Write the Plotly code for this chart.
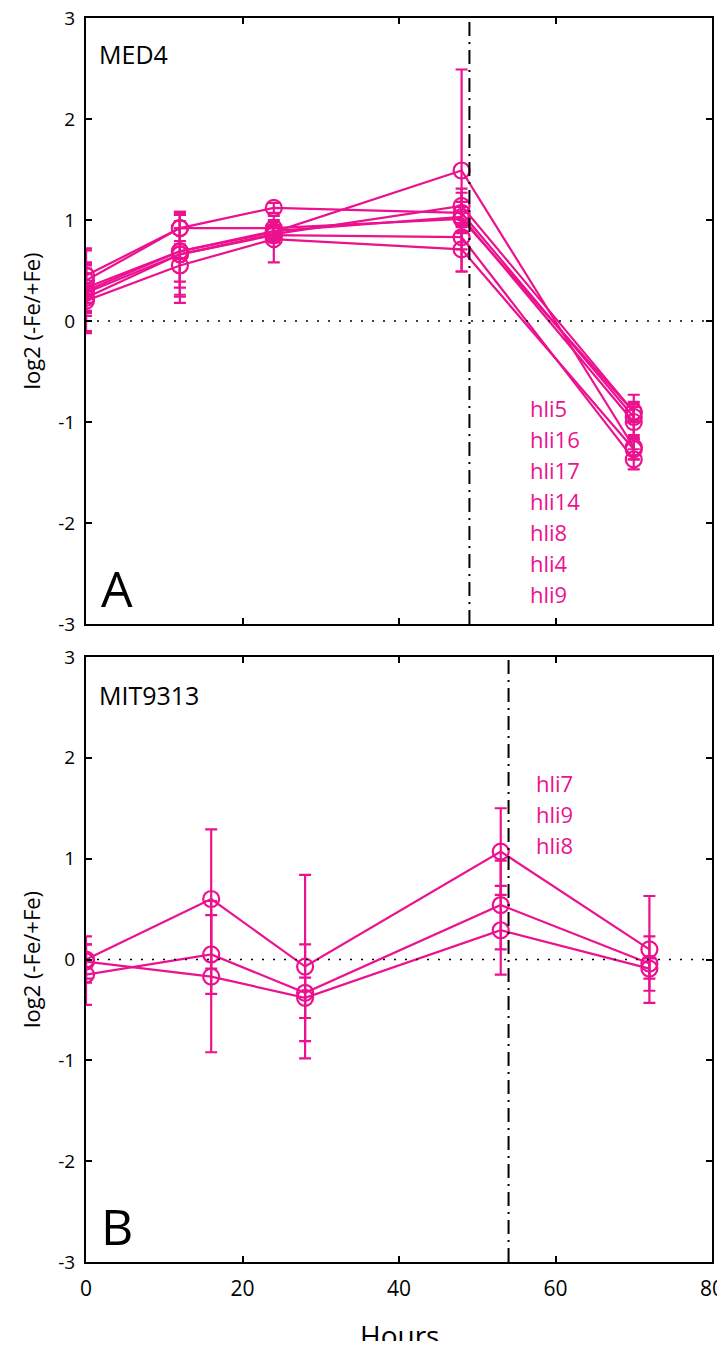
import plotly.graph_objects as go
from plotly.subplots import make_subplots

PINK = "#EC118F"
FONT = "Open Sans"

# Panel A: MED4
hours_a = [0, 12, 24, 48, 70]
med4_series = {
    "s1": [0.45, 0.92, 1.12, 1.07, -0.95],
    "s2": [0.40, 0.92, 0.92, 1.01, -0.90],
    "s3": [0.33, 0.69, 0.88, 1.49, -1.25],
    "s4": [0.28, 0.66, 0.86, 1.14, -0.90],
    "s5": [0.23, 0.66, 0.85, 0.83, -1.37],
    "s6": [0.20, 0.55, 0.81, 0.71, -1.27],
    "s7": [0.30, 0.69, 0.89, 1.03, -1.00],
}
med4_err = {
    "s1": [0.27, 0.16, 0.05, 0.20, 0.22],
    "s2": [0.30, 0.13, 0.08, 0.12, 0.08],
    "s3": [0.25, 0.36, 0.10, 1.00, 0.12],
    "s4": [0.28, 0.40, 0.08, 0.17, 0.10],
    "s5": [0.33, 0.42, 0.07, 0.12, 0.10],
    "s6": [0.32, 0.37, 0.23, 0.22, 0.10],
    "s7": [0.25, 0.30, 0.06, 0.15, 0.15],
}
med4_labels = ["hli5", "hli16", "hli17", "hli14", "hli8", "hli4", "hli9"]
med4_vline = 49

# Panel B: MIT9313
hours_b = [0, 16, 28, 53, 72]
mit_series = {
    "s1": [0.00, 0.60, -0.07, 1.07, 0.10],
    "s2": [-0.15, 0.05, -0.33, 0.54, -0.04],
    "s3": [-0.02, -0.17, -0.38, 0.29, -0.09],
}
mit_err = {
    "s1": [0.23, 0.69, 0.91, 0.43, 0.53],
    "s2": [0.30, 0.39, 0.48, 0.44, 0.27],
    "s3": [0.17, 0.75, 0.20, 0.44, 0.10],
}
mit_labels = ["hli7", "hli9", "hli8"]
mit_vline = 54

x_ticks = [0, 20, 40, 60, 80]
y_ticks = [-3, -2, -1, 0, 1, 2, 3]
y_ticktext = [str(v) for v in y_ticks]  # plain hyphen minus

# figure sized to fit the window with the page's 8px body margin (no scrollbars)
W, H = 717, 1333
L, R, T, B = 78, 13, 10, 79
plot_h = H - T - B
gap_px = 33
dom_a = [1 - 606 / plot_h, 1.0]
dom_b = [0.0, 1 - (606 + gap_px) / plot_h]

fig = make_subplots(rows=2, cols=1, shared_xaxes=False, vertical_spacing=0.0266)

def add_series(series, errs, xs, row):
    for k, ys in series.items():
        fig.add_trace(go.Scatter(
            x=xs, y=ys, mode="lines+markers",
            line=dict(color=PINK, width=2.2),
            marker=dict(symbol="circle-open", size=16, color=PINK, line=dict(width=2.2, color=PINK)),
            error_y=dict(type="data", array=errs[k], visible=True, color=PINK, thickness=2.2, width=6),
            showlegend=False, hoverinfo="skip"), row=row, col=1)

add_series(med4_series, med4_err, hours_a, 1)
add_series(mit_series, mit_err, hours_b, 2)

axis_common = dict(range=[0, 80], tickvals=x_ticks, showgrid=False, zeroline=False, ticks="inside", ticklen=6,
                   tickwidth=1.5, tickcolor="black", showline=True, linecolor="black", linewidth=2,
                   mirror="ticks", tickfont=dict(family=FONT, size=21, color="black"), automargin=False,
                   ticklabeloverflow="allow", ticklabelstandoff=7)
fig.update_xaxes(**axis_common)
fig.update_xaxes(showticklabels=False, row=1, col=1)
yaxis_common = dict(range=[-3, 3], tickvals=y_ticks, ticktext=y_ticktext, showgrid=False, zeroline=False,
                    ticks="inside", ticklen=6,
                    tickwidth=1.5, tickcolor="black", showline=True, linecolor="black", linewidth=2,
                    mirror="ticks", tickfont=dict(family=FONT, size=19, color="black"), automargin=False,
                    ticklabeloverflow="allow", ticklabelstandoff=5,
                    title=dict(text="log2 (-Fe/+Fe)", font=dict(family=FONT, size=22, color="black"), standoff=12))
fig.update_yaxes(**yaxis_common)

fig.update_layout(
    width=W, height=H, plot_bgcolor="white", paper_bgcolor="white",
    margin=dict(l=L, r=R, t=T, b=B),
)
fig.update_yaxes(domain=dom_a, row=1, col=1)
fig.update_yaxes(domain=dom_b, row=2, col=1)

shapes = []
for xref, yref, xv in [("x", "y", med4_vline), ("x2", "y2", mit_vline)]:
    shapes.append(dict(type="line", xref=xref, yref=yref + " domain", x0=xv, x1=xv, y0=0, y1=1,
                       line=dict(color="black", width=2, dash="14px,6px,2px,6px")))
    shapes.append(dict(type="line", xref=xref + " domain", yref=yref, x0=0, x1=1, y0=0, y1=0,
                       line=dict(color="black", width=1.5, dash="2px,9px")))
fig.update_layout(shapes=shapes)

ann = []
for i, lab in enumerate(med4_labels):
    ann.append(dict(x=56.5, y=-0.86 - 0.307 * i, xref="x", yref="y", text=lab, showarrow=False,
                    xanchor="left", yanchor="middle", font=dict(family=FONT, size=22, color=PINK)))
for i, lab in enumerate(mit_labels):
    ann.append(dict(x=57.2, y=1.75 - 0.307 * i, xref="x2", yref="y2", text=lab, showarrow=False,
                    xanchor="left", yanchor="middle", font=dict(family=FONT, size=22, color=PINK)))
ann.append(dict(x=0.017, y=0.941, xref="x domain", yref="y domain", text="MED4", showarrow=False,
                xanchor="left", yanchor="middle", font=dict(family=FONT, size=25, color="black")))
ann.append(dict(x=0.017, y=0.937, xref="x2 domain", yref="y2 domain", text="MIT9313", showarrow=False,
                xanchor="left", yanchor="middle", font=dict(family=FONT, size=25, color="black")))
ann.append(dict(x=0.02, y=0.0, xref="x domain", yref="y domain", text="A", showarrow=False,
                xanchor="left", yanchor="bottom", font=dict(family=FONT, size=50, color="black")))
ann.append(dict(x=0.02, y=0.0, xref="x2 domain", yref="y2 domain", text="B", showarrow=False,
                xanchor="left", yanchor="bottom", font=dict(family=FONT, size=50, color="black")))
# x-axis title placed as a paper annotation below the bottom panel
ann.append(dict(x=0.5, y=-0.0587, xref="paper", yref="paper", text="Hours", showarrow=False,
                xanchor="center", yanchor="middle", font=dict(family=FONT, size=28, color="black")))
fig.update_layout(annotations=ann)

fig.write_html("out.html")
